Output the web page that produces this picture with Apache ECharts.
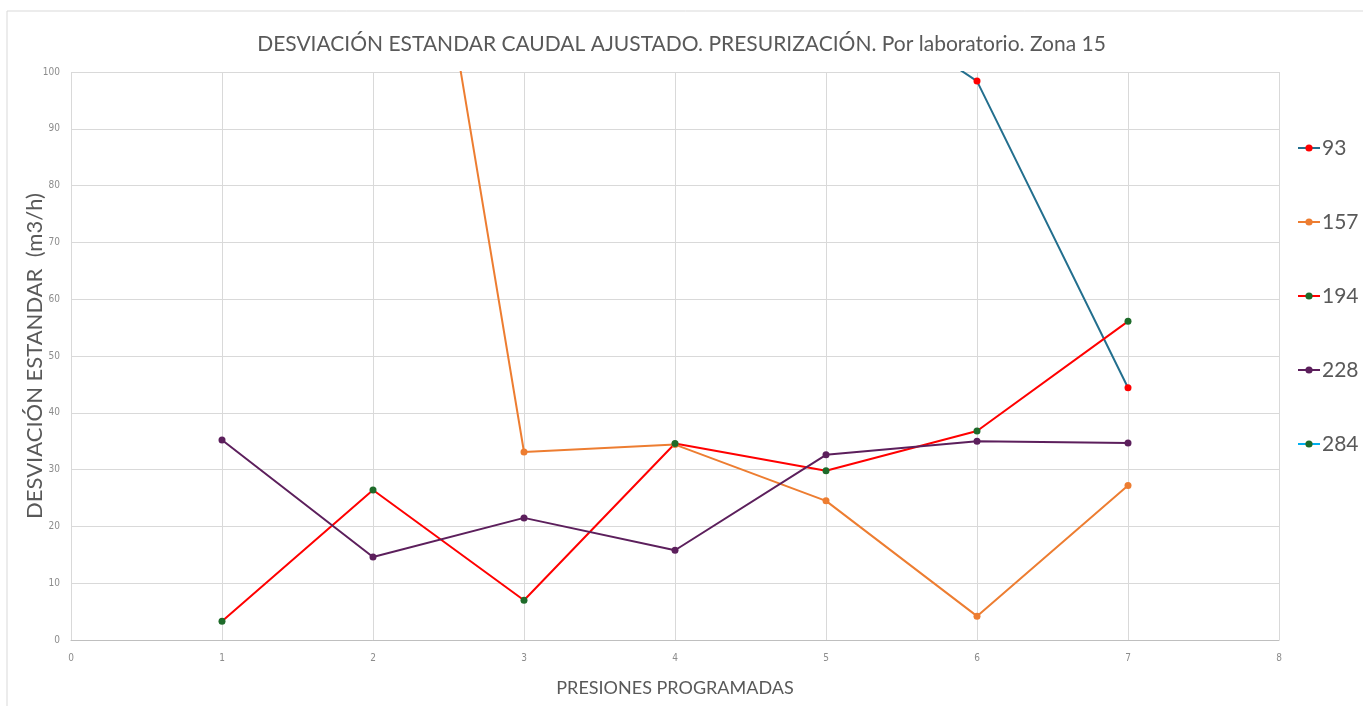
<!DOCTYPE html>
<html>
<head>
<meta charset="utf-8">
<script src="https://cdn.jsdelivr.net/npm/echarts@6/dist/echarts.min.js"></script>
<style>
  html, body { margin: 0; padding: 0; background: #fff; }
  #chart { width: 1363px; height: 706px; }
</style>
</head>
<body>
<div id="chart"></div>
<script>
// presiones programadas (eje X)
var presiones = [1, 2, 3, 4, 5, 6, 7];

// laboratorios
var labs = ['93', '157', '194', '228', '284'];

// valores (null = sin dato / fuera de escala)
var lab93  = [null, null, null, null, 116, 98.4, 44.4];
var lab157 = [null, 193, 33.1, 34.4, 24.5, 4.2, 27.2];
var lab194 = [3.3, 26.4, 7.0, 34.6, 29.8, 36.8, 56.1];
var lab228 = [35.2, 14.6, 21.5, 15.8, 32.6, 35.0, 34.7];
var lab284 = [null, null, null, null, null, null, null];

var lineColors = ['#236f8e', '#ed7d31', '#ff0000', '#5c1f5c', '#00b0f0'];
var dotColors  = ['#ff0000', '#ed7d31', '#1e6b2a', '#5c1f5c', '#1e6b2a'];

function pares(vals) {
    return presiones.map(function (x, i) { return [x, vals[i]]; });
}

var valores = [lab93, lab157, lab194, lab228, lab284];
var tickFont = '"DejaVu Sans Condensed", "Liberation Sans", sans-serif';

var chart = echarts.init(document.getElementById('chart'));
var option = {
    animation: false,
    title: {
        text: 'DESVIACIÓN ESTANDAR CAUDAL AJUSTADO. PRESURIZACIÓN. Por laboratorio. Zona 15',
        left: 'center',
        top: 29,
        textStyle: {
            fontFamily: 'Lato',
            fontWeight: 'normal',
            fontSize: 21,
            color: '#595959'
        }
    },
    graphic: [{
        type: 'rect',
        shape: { x: 7, y: 11, width: 1400, height: 720 },
        style: { fill: 'none', stroke: '#d9d9d9', lineWidth: 1 },
        silent: true
    }],
    legend: {
        orient: 'vertical',
        left: 1292,
        top: 132,
        itemWidth: 22,
        itemHeight: 9,
        itemGap: 52,
        data: labs,
        textStyle: {
            fontFamily: 'Lato',
            fontSize: 21,
            lineHeight: 22,
            color: '#595959',
            padding: [0, 0, 0, -3]
        }
    },
    grid: {
        left: 71,
        right: 84,
        top: 72,
        bottom: 66,
        outerBoundsMode: 'none'
    },
    xAxis: {
        type: 'value',
        min: 0,
        max: 8,
        interval: 1,
        name: 'PRESIONES PROGRAMADAS',
        nameLocation: 'middle',
        nameGap: 39,
        nameMoveOverlap: false,
        nameTextStyle: {
            fontFamily: 'Lato',
            fontSize: 18,
            color: '#595959'
        },
        axisLine: { lineStyle: { color: '#bfbfbf', width: 1 } },
        axisTick: { show: false },
        axisLabel: {
            margin: 13,
            fontFamily: tickFont,
            fontSize: 10,
            color: '#8c8c8c'
        },
        splitLine: { show: true, lineStyle: { color: '#d9d9d9', width: 1 } }
    },
    yAxis: {
        type: 'value',
        min: 0,
        max: 100,
        interval: 10,
        name: 'DESVIACIÓN ESTANDAR  (m3/h)',
        nameLocation: 'middle',
        nameGap: 25,
        nameMoveOverlap: false,
        nameTextStyle: {
            fontFamily: 'Lato',
            fontSize: 22,
            color: '#595959'
        },
        axisLine: { show: false },
        axisTick: { show: false },
        axisLabel: {
            margin: 11,
            fontFamily: tickFont,
            fontSize: 10,
            color: '#8c8c8c'
        },
        splitLine: { lineStyle: { color: '#d9d9d9', width: 1 } }
    },
    series: labs.map(function (name, i) {
        return {
            name: name,
            type: 'line',
            data: pares(valores[i]),
            symbol: 'circle',
            symbolSize: 7,
            showSymbol: true,
            connectNulls: false,
            clip: true,
            lineStyle: { color: lineColors[i], width: 2 },
            itemStyle: { color: dotColors[i] }
        };
    })
};
chart.setOption(option);
</script>
</body>
</html>
